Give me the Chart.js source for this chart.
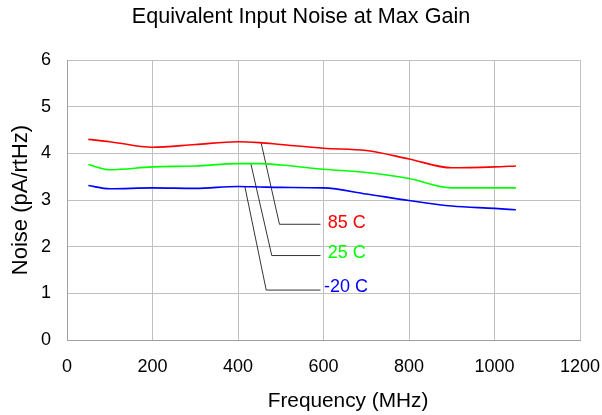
<!DOCTYPE html>
<html>
<head>
<meta charset="utf-8">
<script src="https://cdn.jsdelivr.net/npm/chart.js@4"></script>
<style>
html,body{margin:0;padding:0;background:#fff;}
#wrap{width:602px;height:415px;}
</style>
</head>
<body>
<div id="wrap"><canvas id="c" width="602" height="415"></canvas></div>
<script>
const freqs = [50, 100, 200, 300, 400, 450, 500, 600, 700, 800, 900, 1000, 1050];
const noise85 = [4.30, 4.25, 4.13, 4.19, 4.25, 4.23, 4.19, 4.11, 4.06, 3.88, 3.69, 3.71, 3.73];
const noise25 = [3.76, 3.65, 3.71, 3.73, 3.78, 3.78, 3.75, 3.66, 3.59, 3.46, 3.26, 3.26, 3.26];
const noiseM20 = [3.31, 3.24, 3.26, 3.25, 3.29, 3.28, 3.27, 3.26, 3.13, 2.99, 2.87, 2.82, 2.79];
const seriesNames = ['85 C', '25 C', '-20 C'];
const seriesColors = ['#ff0000', '#00ff00', '#0000ff'];
const xTicks = [0, 200, 400, 600, 800, 1000, 1200];
const yTicks = [0, 1, 2, 3, 4, 5, 6];
const xTitle = 'Frequency (MHz)';
// leader lines (data units): [x, y] points
const leader85 = [[454, 4.23], [497, 2.48], [593, 2.48]];
const leader25 = [[430, 3.78], [479, 1.81], [593, 1.81]];
const leaderM20 = [[416, 3.29], [466, 1.07], [593, 1.07]];
const labelPos = [[610, 2.50], [610, 1.87], [601, 1.13]];

const toXY = (xs, ys) => xs.map((x, i) => ({x: x, y: ys[i]}));
const toPts = arr => arr.map(p => ({x: p[0], y: p[1]}));
const FONT = '"Liberation Sans", Arial, sans-serif';

const series = [noise85, noise25, noiseM20];
const leaders = [leader85, leader25, leaderM20];
const datasets = [];
series.forEach((s, i) => {
  datasets.push({
    label: seriesNames[i], data: toXY(freqs, s), borderColor: seriesColors[i],
    borderWidth: 1.6, pointRadius: 0, cubicInterpolationMode: 'monotone', fill: false
  });
});
leaders.forEach((l) => {
  datasets.push({
    label: '', data: toPts(l), borderColor: '#000000', borderWidth: 0.8,
    pointRadius: 0, tension: 0, fill: false
  });
});

const labelPlugin = {
  id: 'seriesLabels',
  afterDatasetsDraw(chart) {
    const ctx = chart.ctx, xs = chart.scales.x, ys = chart.scales.y;
    ctx.save();
    ctx.font = '18px ' + FONT;
    ctx.textAlign = 'left';
    ctx.textBaseline = 'middle';
    labelPos.forEach((p, i) => {
      ctx.fillStyle = seriesColors[i];
      ctx.fillText(seriesNames[i], xs.getPixelForValue(p[0]), ys.getPixelForValue(p[1]));
    });
    // x-axis title (offset right of plot centre, as in the original)
    ctx.font = '20.8px ' + FONT;
    ctx.fillStyle = '#000';
    ctx.textAlign = 'center';
    ctx.fillText(xTitle, (xs.left + xs.right) / 2 + 24.5, xs.bottom - 14);
    ctx.restore();
  }
};

new Chart(document.getElementById('c'), {
  type: 'line',
  data: { datasets: datasets },
  plugins: [labelPlugin],
  options: {
    responsive: false, animation: false,
    layout: { padding: { left: 22, right: 22, top: 0, bottom: 0 } },
    plugins: {
      legend: { display: false },
      tooltip: { enabled: false },
      title: {
        display: true, text: 'Equivalent Input Noise at Max Gain', color: '#000',
        font: { family: FONT, size: 21.6, weight: 'normal' },
        padding: { top: 4, bottom: 30.1 }
      }
    },
    scales: {
      x: {
        type: 'linear', min: 0, max: 1200,
        afterBuildTicks: (s) => { s.ticks = xTicks.map(v => ({value: v})); },
        ticks: { color: '#000', padding: 0, maxRotation: 0,
          callback: (v) => String(v),
          font: { family: FONT, size: 18 } },
        grid: { color: '#c0c0c0', lineWidth: 1, drawTicks: true, tickLength: 16, tickColor: 'rgba(0,0,0,0)' },
        border: { color: '#a0a0a0', width: 1 },
        title: { display: false },
        afterFit: (s) => { s.height = 75; }
      },
      y: {
        min: 0, max: 6,
        afterBuildTicks: (s) => { s.ticks = yTicks.map(v => ({value: v})); },
        ticks: { color: '#000', padding: 16,
          font: { family: FONT, size: 18 } },
        grid: { color: '#c0c0c0', lineWidth: 1, drawTicks: false },
        border: { color: '#a0a0a0', width: 1 },
        title: { display: true, text: 'Noise (pA/rtHz)', color: '#000',
          font: { family: FONT, size: 22 }, padding: { top: -14.5, bottom: 0 } },
        afterFit: (s) => { s.width = 45; }
      }
    }
  }
});
</script>
</body>
</html>
